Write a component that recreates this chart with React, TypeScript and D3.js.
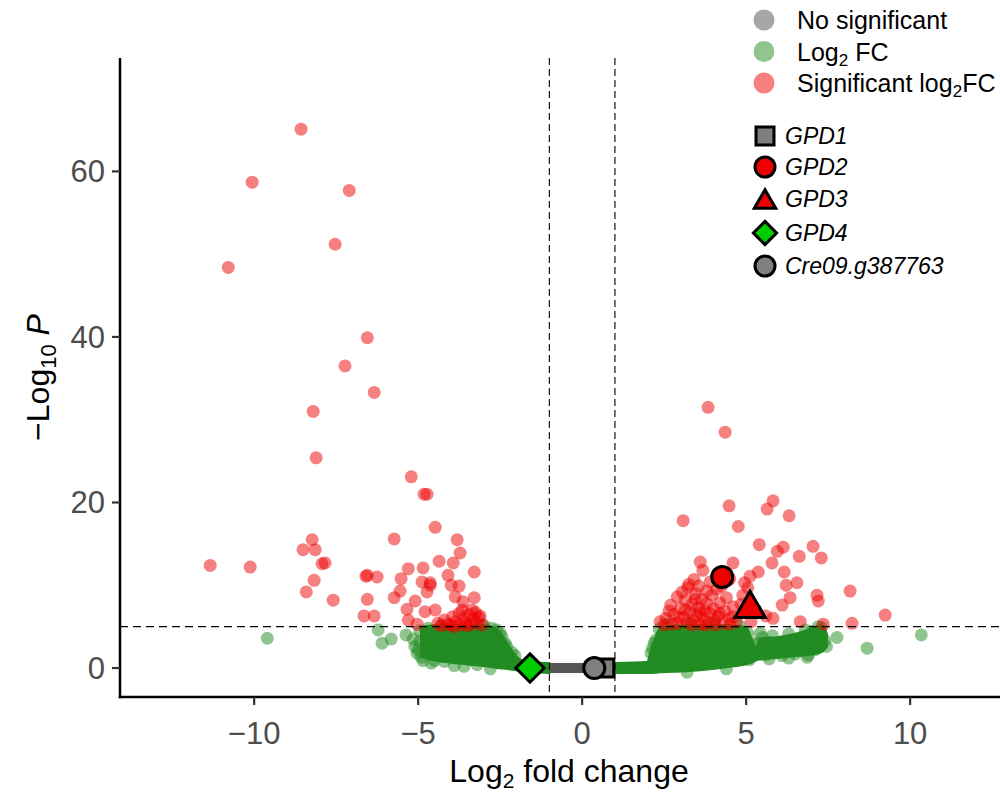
import React, { useEffect } from 'react';
import * as d3 from 'd3';

// ---- data ----
const xTicks = [-10, -5, 0, 5, 10];
const yTicks = [0, 20, 40, 60];
const fcCutoff = [-1, 1];
const pCutoff = 5;

// significant (red) points, left side: [log2FC, -log10P]
const redLeft: [number, number][] = [
  [-8.57, 65.1], [-10.06, 58.7], [-7.1, 57.7], [-10.79, 48.4], [-7.53, 51.2], [-6.55, 39.9],
  [-7.23, 36.5], [-6.34, 33.3], [-8.2, 31.0], [-8.11, 25.4], [-11.34, 12.4], [-10.12, 12.2],
  [-8.23, 15.5], [-8.51, 14.3], [-8.14, 14.3], [-7.93, 12.6], [-7.84, 12.7], [-8.17, 10.6],
  [-8.41, 9.2], [-7.59, 8.2], [-5.21, 23.1], [-4.82, 21.0], [-4.73, 21.0], [-4.48, 17.0],
  [-5.73, 15.6], [-3.81, 15.5], [-3.72, 13.9], [-4.36, 12.9], [-3.93, 12.7], [-5.3, 12.0],
  [-4.85, 12.1], [-3.29, 11.6], [-6.59, 11.1], [-6.55, 11.2], [-6.25, 11.0], [-5.52, 10.8],
  [-4.88, 10.4], [-4.63, 10.3], [-4.09, 11.2], [-3.99, 10.0], [-3.75, 9.9], [-5.55, 9.3],
  [-4.73, 9.2], [-4.63, 10.0], [-3.87, 8.6], [-3.29, 8.5], [-5.73, 8.5], [-6.55, 8.3],
  [-5.09, 8.1], [-3.63, 8.0], [-5.34, 7.1], [-4.79, 6.8], [-4.48, 7.0], [-3.35, 7.0],
  [-3.11, 6.3], [-6.65, 6.3], [-6.34, 6.3], [-5.3, 5.8], [-5.03, 5.3],
  [-4.4, 5.4], [-4.2, 5.8], [-4.1, 5.3], [-3.95, 6.2], [-3.85, 5.6], [-3.75, 6.6], [-3.7, 5.2],
  [-3.6, 6.0], [-3.55, 5.5], [-3.45, 6.5], [-3.4, 5.3], [-3.3, 5.9], [-3.2, 5.4], [-3.15, 6.1],
  [-3.05, 5.2], [-4.0, 5.2], [-3.9, 5.0], [-3.5, 5.1], [-4.3, 5.1], [-3.65, 7.0], [-3.25, 6.7],
];

// significant (red) points, right side
const redRight: [number, number][] = [
  [3.84, 31.5], [4.36, 28.5], [3.08, 17.8], [4.48, 19.6], [4.76, 17.1], [5.82, 20.2],
  [5.64, 19.2], [6.31, 18.4], [5.4, 14.9], [6.13, 14.6], [5.95, 14.1], [7.04, 14.7],
  [6.62, 13.5], [7.29, 13.3], [5.79, 12.7], [6.16, 11.6], [6.22, 10.0], [6.55, 10.3],
  [6.34, 8.5], [6.1, 7.6], [5.82, 6.0], [7.16, 8.8], [7.2, 8.1], [8.17, 9.3], [9.24, 6.4],
  [8.23, 5.4], [6.65, 5.6], [7.35, 5.3], [5.37, 11.6], [5.12, 11.1], [4.6, 12.7], [3.6, 12.8],
  [3.41, 10.7], [3.68, 11.8], [4.95, 10.3], [5.05, 9.7], [3.22, 9.7], [4.5, 10.8], [4.9, 8.8],
  [5.3, 7.0], [5.6, 6.3], [5.15, 5.6], [4.6, 6.2], [2.9, 8.6], [2.7, 7.6], [2.55, 6.0],
  [2.38, 5.6], [2.5, 5.2],
  [2.8, 6.5], [2.9, 5.4], [3.0, 7.2], [3.1, 6.1], [3.15, 8.2], [3.2, 5.5], [3.3, 6.8],
  [3.35, 7.7], [3.4, 5.8], [3.45, 9.0], [3.5, 6.4], [3.55, 7.3], [3.6, 5.3], [3.65, 8.3],
  [3.7, 6.0], [3.75, 6.9], [3.8, 7.8], [3.85, 5.5], [3.9, 6.6], [3.95, 8.8], [4.0, 7.2],
  [4.05, 5.8], [4.1, 9.5], [4.15, 6.3], [4.2, 7.9], [4.3, 5.4], [4.35, 6.9], [4.4, 8.5],
  [4.5, 6.0], [4.6, 7.4], [4.7, 5.6], [3.05, 9.2], [3.25, 10.1], [3.55, 9.9], [3.9, 10.4],
  [4.25, 9.9], [4.45, 10.6], [2.95, 6.1], [3.35, 5.2], [3.75, 5.2], [4.05, 5.2], [4.5, 5.3],
  [2.75, 5.3], [3.15, 7.0], [3.6, 6.7], [4.2, 6.6], [3.45, 8.3], [3.8, 9.3], [2.65, 6.9],
  [4.85, 7.7],
];

// log2FC-only (green) scattered points
const greenPts: [number, number][] = [
  [-9.6, 3.6], [-6.22, 4.6], [-6.1, 3.0], [-5.82, 3.5], [-5.37, 4.0], [-5.15, 3.5],
  [-5.03, 1.8], [-5.1, 2.6], [-4.95, 4.5], [-4.9, 1.3], [-4.7, 4.8], [-4.5, 0.9],
  [-4.2, 0.8], [-3.2, 0.4], [-2.6, 4.6], [-2.45, 3.8], [-2.3, 2.6],
  [-4.95, 3.2], [-5.0, 2.2], [-4.85, 0.9], [-4.6, 0.6], [-3.9, 0.3], [-3.6, 0.2], [-2.8, -0.1],
  [-2.75, 4.8], [-2.5, 4.2], [-2.35, 3.0], [-2.15, 1.9], [-2.05, 1.5], [-4.3, 5.1], [-3.0, 5.2],
  [7.77, 3.7], [8.69, 2.4], [10.34, 4.0], [6.86, 1.3], [5.43, 4.2], [7.25, 3.7], [7.1, 2.2],
  [6.5, 1.7], [6.1, 1.5], [5.6, 1.6], [7.3, 4.9], [7.0, 4.4], [6.7, 3.2], [5.2, 3.0],
  [2.2, 3.0], [2.1, 1.8],
  [2.35, 4.7], [2.25, 3.4], [2.15, 2.4], [2.6, 5.3], [3.3, 5.4], [4.0, 5.3], [4.8, 5.1],
  [5.05, 4.2], [5.1, 1.0], [5.35, 2.9], [5.5, 3.7], [5.8, 3.9], [6.3, 4.1], [6.8, 4.6],
  [7.2, 5.0], [7.4, 3.3], [7.45, 2.6], [6.9, 1.6], [6.3, 1.2], [5.7, 1.1], [4.4, -0.1], [3.2, -0.5],
];

// dense cores (thousands of overlapping points): [log2FC, lower edge, upper edge]
const greenCoreLeft: [number, number, number][] = [
  [-4.9, 1.4, 4.9], [-4.5, 1.0, 5.1], [-4.0, 0.7, 5.1], [-3.5, 0.5, 5.1], [-3.0, 0.3, 5.1],
  [-2.65, 0.1, 4.8], [-2.4, 0.0, 3.6], [-2.2, -0.1, 2.3], [-2.0, -0.2, 1.3], [-1.8, -0.3, 0.8],
  [-1.6, -0.4, 0.6], [-1.0, -0.55, 0.55],
];
const greyCore: [number, number, number][] = [
  [-1.0, -0.6, 0.6], [1.0, -0.6, 0.6],
];
const greenCoreRight: [number, number, number][] = [
  [1.0, -0.55, 0.55], [2.0, -0.55, 0.7], [2.1, -0.55, 2.0], [2.25, -0.5, 3.7], [2.4, -0.45, 4.9],
  [3.0, -0.35, 5.1], [3.6, -0.2, 5.1], [4.5, 0.2, 5.1], [5.0, 0.5, 4.9], [5.15, 0.7, 3.5],
  [5.3, 1.0, 2.4], [5.45, 1.1, 3.5], [6.0, 1.3, 3.7], [6.5, 1.5, 4.1], [7.0, 1.7, 4.7],
  [7.3, 2.0, 5.1], [7.45, 2.6, 4.1],
];

// highlighted genes
const genes = ['GPD1', 'GPD2', 'GPD3', 'GPD4', 'Cre09.g387763'];
const geneFC = [0.69, 4.27, 5.12, -1.59, 0.37];
const geneP = [0, 11.0, 7.7, 0, 0];
const geneShape = ['square', 'circle', 'triangle', 'diamond', 'circle'];
const geneFill = ['#7f7f7f', '#ee0000', '#ee0000', '#00cd00', '#7f7f7f'];

const legendLabels = ['No significant', 'Log2 FC', 'Significant log2FC'];
const legendColors = ['#4d4d4d', '#228b22', '#ee0000'];

// ---- layout ----
const W = 1000, H = 793;
const L = 120, R = 1000, T = 58, B = 697;
const FONT = "'Liberation Sans', Arial, sans-serif";

function shapePath(shape: string, s: number) {
  if (shape === 'square') return `M${-s},${-s}H${s}V${s}H${-s}Z`;
  if (shape === 'circle') return d3.symbol(d3.symbolCircle, Math.PI * s * s)()!;
  if (shape === 'triangle') return `M0,${-s * 1.25}L${s * 1.45},${s * 1.25}L${-s * 1.45},${s * 1.25}Z`;
  return `M0,${-s * 1.35}L${s * 1.35},0L0,${s * 1.35}L${-s * 1.35},0Z`;
}
const plotSize: Record<string, number> = { square: 9, circle: 10.5, triangle: 10.5, diamond: 10.5 };
const legSize: Record<string, number> = { square: 9, circle: 10, triangle: 7.4, diamond: 8.6 };

export default function App() {
  useEffect(() => {
    document.body.style.margin = '0';
  }, []);
  const x = d3.scaleLinear().domain([-14.09, 12.74]).range([L, R]);
  const y = d3.scaleLinear().domain([-3.5, 73.7]).range([B, T]);
  const area = d3
    .area<[number, number, number]>()
    .x((d) => x(d[0]))
    .y0((d) => y(d[1]))
    .y1((d) => y(d[2]))
    .curve(d3.curveMonotoneX);
  const r = 6.5;

  return (
    <svg width={W} height={H} style={{ position: 'absolute', left: 0, top: 0, background: '#fff' }} fontFamily={FONT}>
      <defs>
        <clipPath id="plotclip">
          <rect x={L} y={T} width={R - L} height={B - T} />
        </clipPath>
      </defs>
      <g clipPath="url(#plotclip)">
        {/* dense cores */}
        {[greenCoreLeft, greenCoreRight].map((c, i) => (
          <path key={'core' + i} d={area(c)!} fill="#228b22" stroke="#228b22" strokeWidth={3} strokeLinejoin="round" />
        ))}
        <path d={area(greyCore)!} fill="#555555" />
        {greenPts.map((d, i) => (
          <circle key={'g' + i} cx={x(d[0])} cy={y(d[1])} r={r} fill="#228b22" fillOpacity={0.5} />
        ))}
        {redLeft.concat(redRight).map((d, i) => (
          <circle key={'r' + i} cx={x(d[0])} cy={y(d[1])} r={r} fill="#ee0000" fillOpacity={0.5} />
        ))}
        {/* cutoff lines */}
        {fcCutoff.map((v) => (
          <line key={'v' + v} x1={x(v)} x2={x(v)} y1={T} y2={B} stroke="#000" strokeWidth={1.1} strokeDasharray="7,4" />
        ))}
        <line x1={L} x2={R} y1={y(pCutoff)} y2={y(pCutoff)} stroke="#000" strokeWidth={1.4} strokeDasharray="8,5" />
        {/* highlighted genes */}
        {genes.map((g, i) => (
          <path
            key={g}
            d={shapePath(geneShape[i], plotSize[geneShape[i]])}
            transform={`translate(${x(geneFC[i])},${y(geneP[i])})`}
            fill={geneFill[i]}
            stroke="#000"
            strokeWidth={3}
          />
        ))}
      </g>

      {/* axes */}
      <line x1={L} x2={L} y1={T} y2={B + 1.25} stroke="#000" strokeWidth={2.5} />
      <line x1={L - 1.25} x2={R} y1={B} y2={B} stroke="#000" strokeWidth={2.5} />
      {xTicks.map((t) => (
        <g key={'xt' + t}>
          <line x1={x(t)} x2={x(t)} y1={B} y2={B + 8} stroke="#333" strokeWidth={2.2} />
          <text x={x(t)} y={744} textAnchor="middle" fontSize={31} fill="#4d4d4d">
            {t < 0 ? '\u2212' + Math.abs(t) : t}
          </text>
        </g>
      ))}
      {yTicks.map((t) => (
        <g key={'yt' + t}>
          <line x1={L - 8} x2={L} y1={y(t)} y2={y(t)} stroke="#333" strokeWidth={2.2} />
          <text x={L - 15} y={y(t) + 11} textAnchor="end" fontSize={31} fill="#4d4d4d">
            {t}
          </text>
        </g>
      ))}
      <text x={569} y={782} textAnchor="middle" fontSize={32} fill="#000">
        Log<tspan fontSize={21} dy={6}>2</tspan>
        <tspan dy={-6}> fold change</tspan>
      </text>
      <text transform={`translate(49,${(T + B) / 2}) rotate(-90)`} textAnchor="middle" fontSize={32} fill="#000">
        {'\u2212Log'}
        <tspan fontSize={22} dy={7}>10</tspan>
        <tspan dy={-7}> </tspan>
        <tspan fontStyle="italic">P</tspan>
      </text>

      {/* legend: point categories */}
      {legendLabels.map((lab, i) => (
        <g key={lab}>
          <circle cx={764} cy={20 + i * 31.5} r={10.5} fill={legendColors[i]} fillOpacity={0.5} />
          <text x={797} y={29 + i * 31.5} fontSize={25} fill="#000">
            {i === 0 && 'No significant'}
            {i === 1 && (
              <>
                Log<tspan fontSize={17} dy={5}>2</tspan>
                <tspan dy={-5}> FC</tspan>
              </>
            )}
            {i === 2 && (
              <>
                Significant log<tspan fontSize={17} dy={5}>2</tspan>
                <tspan dy={-5}>FC</tspan>
              </>
            )}
          </text>
        </g>
      ))}
      {/* legend: genes */}
      {genes.map((g, i) => {
        const cy = [136, 167, 199, 233, 266][i];
        return (
          <g key={'lg' + g}>
            <path
              d={shapePath(geneShape[i], legSize[geneShape[i]])}
              transform={`translate(765,${cy})`}
              fill={geneFill[i]}
              stroke="#000"
              strokeWidth={3}
            />
            <text x={785} y={cy + 8} fontSize={23} fontStyle="italic" fill="#000">
              {g}
            </text>
          </g>
        );
      })}
    </svg>
  );
}
